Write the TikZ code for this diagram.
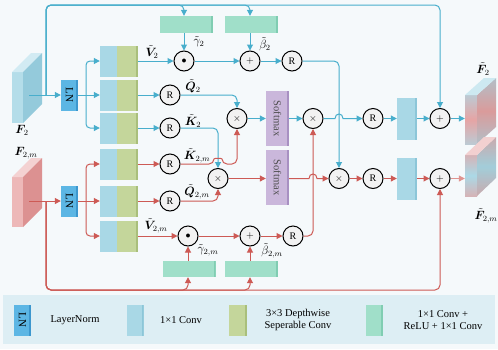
\documentclass[tikz,border=0pt]{standalone}
\usepackage{amsmath,bm}
\usepackage{graphicx}
\usepackage{fontspec}
\setmainfont{Liberation Serif}
\usetikzlibrary{arrows.meta,calc}
\definecolor{lb}{HTML}{48AECC}
\definecolor{lr}{HTML}{CD5A55}
\definecolor{convb}{HTML}{A9D8E6}
\definecolor{convbd}{HTML}{8CC6D8}
\definecolor{dwg}{HTML}{C4D69B}
\definecolor{dwgd}{HTML}{A9BF7B}
\definecolor{mint}{HTML}{A0DFC9}
\definecolor{mintd}{HTML}{80CDB2}
\definecolor{lnb}{HTML}{5CB6E4}
\definecolor{lnbd}{HTML}{3C97CE}
\definecolor{smx}{HTML}{CAB7DB}
\definecolor{smxd}{HTML}{A890C2}
\definecolor{bgc}{HTML}{F5F9FB}
\definecolor{legbg}{HTML}{DDEEF4}
\definecolor{sB}{HTML}{ABD9E6}
\definecolor{sR}{HTML}{E6A4A4}
\definecolor{inBf}{HTML}{B4DDE9}
\definecolor{inBt}{HTML}{D2EBF3}
\definecolor{inBs}{HTML}{94CADB}
\definecolor{inRf}{HTML}{EDB8B8}
\definecolor{inRt}{HTML}{F4D2D2}
\definecolor{inRs}{HTML}{DC9191}
\definecolor{outBt}{HTML}{CDE9F1}
\definecolor{outRt}{HTML}{F2D0D0}
\pgfdeclareverticalshading{bluered}{100bp}{color(0bp)=(sB); color(15bp)=(sB); color(50bp)=(sR); color(85bp)=(sB); color(100bp)=(sB)}
\pgfdeclareverticalshading{redblue}{100bp}{color(0bp)=(sR); color(15bp)=(sR); color(50bp)=(sB); color(85bp)=(sR); color(100bp)=(sR)}
\tikzset{
 bl/.style={draw=lb, line width=1pt},
 rl/.style={draw=lr, line width=1pt},
 ba/.style={bl, -{Triangle[length=6pt,width=6pt]}},
 ra/.style={rl, -{Triangle[length=6pt,width=6pt]}},
 op/.style={circle, draw=black, line width=1pt, fill=gray!10, minimum size=20pt, inner sep=0pt, font=\fontsize{10}{11}\selectfont},
 edgebox/.style={path picture={\fill[#1] ([xshift=-2pt]path picture bounding box.north east) rectangle (path picture bounding box.south east);}},
 cv/.style={rectangle, fill=convb, minimum width=17pt, minimum height=31pt, inner sep=0pt},
 cvR/.style={rectangle, fill=convb, edgebox=convbd, minimum width=20pt, minimum height=42pt, inner sep=0pt},
 dw/.style={rectangle, fill=dwg, edgebox=dwgd, minimum width=21pt, minimum height=31pt, inner sep=0pt},
 mt/.style={rectangle, fill=mint, edgebox=mintd, minimum width=53pt, minimum height=17pt, inner sep=0pt},
 lnbox/.style={rectangle, fill=lnb, edgebox=lnbd, minimum width=17pt, minimum height=31pt, inner sep=0pt, font=\fontsize{11}{12}\selectfont},
 smbox/.style={rectangle, fill=smx, edgebox=smxd, minimum width=23pt, minimum height=55pt, inner sep=0pt, text=black!70, font=\fontsize{10.5}{12}\selectfont},
 lbl/.style={inner sep=0pt, font=\fontsize{12}{14}\selectfont},
 leg/.style={font=\fontsize{10.5}{12.5}\selectfont, align=center},
}
\begin{document}
\begin{tikzpicture}[x=1pt,y=-1pt, font=\fontsize{10}{12}\selectfont]
\useasboundingbox (0,0) rectangle (498,349);
\fill[bgc] (0,0) rectangle (498,349);
\fill[legbg] (3,295) rectangle (495,344);

% input blocks
\fill[inBf] (12,72) rectangle (23,123);
\fill[inBt] (12,72) -- (31,53) -- (42,53) -- (23,72) -- cycle;
\fill[inBs] (23,72) -- (42,53) -- (42,104) -- (23,123) -- cycle;
\fill[inRf] (12,177) rectangle (23,227);
\fill[inRt] (12,177) -- (31,158) -- (42,158) -- (23,177) -- cycle;
\fill[inRs] (23,177) -- (42,158) -- (42,208) -- (23,227) -- cycle;
\node[lbl] (F2) at (22,130) {$\boldsymbol{F}_2$};
\node[lbl] (F2m) at (26,153) {$\boldsymbol{F}_{2,m}$};

% output blocks
\shade[shading=bluered] (465,95) rectangle (477,144);
\shade[shading=bluered] (477,95) -- (496,78) -- (496,127) -- (477,144) -- cycle;
\fill[black,opacity=0.05] (477,95) -- (496,78) -- (496,127) -- (477,144) -- cycle;
\fill[outBt] (465,95) -- (484,78) -- (496,78) -- (477,95) -- cycle;
\shade[shading=redblue] (465,155) rectangle (477,196);
\shade[shading=redblue] (477,155) -- (496,137) -- (496,178) -- (477,196) -- cycle;
\fill[black,opacity=0.05] (477,155) -- (496,137) -- (496,178) -- (477,196) -- cycle;
\fill[outRt] (465,155) -- (484,137) -- (496,137) -- (477,155) -- cycle;
\node[inner sep=0pt, minimum width=12pt, minimum height=49pt] (oT) at (471,119.5) {};
\node[inner sep=0pt, minimum width=12pt, minimum height=41pt] (oB) at (471,175.5) {};
\node[lbl] (Fo) at (483,69) {$\tilde{\boldsymbol{F}}_2$};
\node[lbl] (Fom) at (486,216) {$\tilde{\boldsymbol{F}}_{2,m}$};

\coordinate (f2o) at (29,95);
\coordinate (f2mo) at (29,201);
\coordinate (j1) at (46,95);
\coordinate (j2) at (46,201);
\coordinate (top) at (0,5);
\coordinate (bot) at (0,290);
\coordinate (s1) at (86,95);
\coordinate (s2) at (86,201);

\node[lnbox] (LN1) at (69.5,95) {\rotatebox{-90}{LN}};
\node[lnbox] (LN2) at (69.5,201) {\rotatebox{-90}{LN}};

\foreach \n/\y in {V/61,Q/95,K/128,Km/164,Qm/201,Vm/236} {
 \node[cv] (c\n) at (108.5,\y) {};
 \node[dw] (d\n) at (127.5,\y) {};
}

\node[mt] (gT1) at (186.5,24.5) {};
\node[mt] (gT2) at (251.5,24.5) {};
\node[mt, minimum height=16pt] (gB1) at (189,269) {};
\node[mt, minimum height=16pt] (gB2) at (251.5,269) {};

\node[op] (dotA) at (184,61) {$\bullet$};
\node[op] (plusA) at (250,61) {$+$};
\node[op] (RA) at (292,61) {R};
\node[op] (RQ) at (170,95) {R};
\node[op] (RK) at (170,128) {R};
\node[op] (RKm) at (170,164) {R};
\node[op] (RQm) at (170,201) {R};
\node[op] (dotB) at (188,236) {$\bullet$};
\node[op] (plusB) at (250,236) {$+$};
\node[op] (RB) at (293,236) {R};
\node[op] (xTL) at (237,118.5) {$\times$};
\node[op] (xBL) at (218,178.5) {$\times$};
\node[smbox] (smT) at (277.5,118.5) {\rotatebox{-90}{Softmax}};
\node[smbox] (smB) at (277.5,177.5) {\rotatebox{-90}{Softmax}};
\node[op] (xTR) at (313,118.5) {$\times$};
\node[op] (xBR) at (339,178.5) {$\times$};
\node[op] (ROT) at (373,118.5) {R};
\node[op] (ROB) at (373,178.5) {R};
\node[cvR] (cOT) at (407,118.5) {};
\node[cvR] (cOB) at (407,178.5) {};
\node[op] (pOT) at (440,118.5) {$+$};
\node[op] (pOB) at (440,178.5) {$+$};

% labels
\node[lbl] at (152,52) {$\tilde{\boldsymbol{V}}_2$};
\node[lbl] at (199,42) {$\tilde{\gamma}_2$};
\node[lbl] at (265,44) {$\tilde{\beta}_2$};
\node[lbl] at (193,86) {$\tilde{\boldsymbol{Q}}_2$};
\node[lbl] at (193,121) {$\tilde{\boldsymbol{K}}_2$};
\node[lbl] at (197,156) {$\tilde{\boldsymbol{K}}_{2,m}$};
\node[lbl] at (197,192) {$\tilde{\boldsymbol{Q}}_{2,m}$};
\node[lbl] at (156,226) {$\tilde{\boldsymbol{V}}_{2,m}$};
\node[lbl] at (208,250) {$\tilde{\gamma}_{2,m}$};
\node[lbl] at (272,251) {$\tilde{\beta}_{2,m}$};

% blue stream
\draw[ba] (f2o) -- (LN1);
\draw[ba] (LN1) -- (cQ);
\draw[ba,rounded corners=4] (s1) |- (cV);
\draw[ba,rounded corners=4] (s1) |- (cK);
\draw[ba,rounded corners=5] (j1) -- (j1 |- top) -| (dotA |- gT1.north);
\draw[ba,rounded corners=5] (j1) -- (j1 |- top) -| (plusA |- gT2.north);
\draw[ba,rounded corners=5] (j1) -- (j1 |- top) -| (pOT);
\draw[ba] (dotA |- gT1.south) -- (dotA);
\draw[ba] (plusA |- gT2.south) -- (plusA);
\draw[ba] (dV) -- (dotA);
\draw[ba] (dotA) -- (plusA);
\draw[ba] (plusA) -- (RA);
\draw[ba,rounded corners=5] (RA) -| (xBR);
\draw[ba] (dQ) -- (RQ);
\draw[ba,rounded corners=5] (RQ) -| (xTL);
\draw[ba] (dK) -- (RK);
\draw[ba,rounded corners=5] (RK) -| (xBL);
\draw[ba] (xTL) -- (smT);
\draw[ba] (smT) -- (xTR);
\draw[ba] (xTR) -- ($(xBR|-xTR)+(-4,0)$) .. controls +(0,-6) and +(0,-6) .. ($(xBR|-xTR)+(4,0)$) -- (ROT);
\draw[ba] (ROT) -- (cOT);
\draw[ba] (cOT) -- (pOT);
\draw[ba] (pOT) -- (pOT -| oT.west);

% red stream
\draw[ra] (f2mo) -- (LN2);
\draw[ra] (LN2) -- (cQm);
\draw[ra,rounded corners=4] (s2) |- (cKm);
\draw[ra,rounded corners=4] (s2) |- (cVm);
\draw[ra,rounded corners=5] (j2) -- (j2 |- bot) -| (dotB |- gB1.south);
\draw[ra,rounded corners=5] (j2) -- (j2 |- bot) -| (plusB |- gB2.south);
\draw[ra,rounded corners=5] (j2) -- (j2 |- bot) -| (pOB);
\draw[ra] (dotB |- gB1.north) -- (dotB);
\draw[ra] (plusB |- gB2.north) -- (plusB);
\draw[ra] (dVm) -- (dotB);
\draw[ra] (dotB) -- (plusB);
\draw[ra] (plusB) -- (RB);
\draw[ra,rounded corners=5] (RB) -| (xTR);
\draw[ra] (dKm) -- (RKm);
\draw[ra,rounded corners=5] (RKm) -- ($(xBL|-RKm)+(-4,0)$) .. controls +(0,-6) and +(0,-6) .. ($(xBL|-RKm)+(4,0)$) -| (xTL);
\draw[ra] (dQm) -- (RQm);
\draw[ra,rounded corners=5] (RQm) -| (xBL);
\draw[ra] (xBL) -- (xBL -| smB.west);
\draw[ra] (smB.east |- xBR) -- ($(xTR|-xBR)+(-4,0)$) .. controls +(0,-6) and +(0,-6) .. ($(xTR|-xBR)+(4,0)$) -- (xBR);
\draw[ra] (xBR) -- (ROB);
\draw[ra] (ROB) -- (cOB);
\draw[ra] (cOB) -- (pOB);
\draw[ra, draw=lr!65] (pOB) -- (pOB -| oB.west);

% legend
\node[lnbox] (lgLN) at (22.5,320) {\rotatebox{-90}{LN}};
\node[leg] (lgLNt) at (75,320) {LayerNorm};
\node[cv, edgebox=convbd] (lgcv) at (135,320) {};
\node[leg] (lgcvt) at (181,320) {1×1 Conv};
\node[dw, minimum width=18pt] (lgdw) at (238,320) {};
\node[leg] (lgdwt) at (298,320) {3×3 Depthwise\\Seperable Conv};
\node[mt, minimum width=17pt, minimum height=31pt] (lgmt) at (374.5,320) {};
\node[leg] (lgmtt) at (443,320) {1×1 Conv +\\ReLU + 1×1 Conv};
\end{tikzpicture}
\end{document}
